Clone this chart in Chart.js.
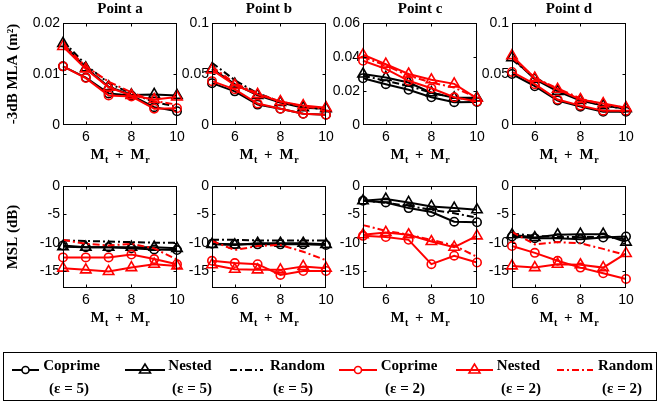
<!DOCTYPE html>
<html><head><meta charset="utf-8">
<script src="https://cdn.jsdelivr.net/npm/chart.js@4.4.1/dist/chart.umd.min.js"></script>
<style>
html,body{margin:0;padding:0;background:#fff;}
#wrap{position:relative;width:659px;height:404px;overflow:hidden;background:#fff;}
canvas{position:absolute;}
#legendBox{position:absolute;left:3px;top:352px;width:654px;height:49px;border:1.5px solid #000;box-sizing:border-box;}
.lt{position:absolute;width:90px;text-align:center;font:bold 15px "Liberation Serif",serif;line-height:17px;color:#000;white-space:nowrap;}
svg{position:absolute;left:0;top:0;pointer-events:none;}
</style></head><body><div id="wrap"><div id="legendBox"></div></div>
<script>
// ---------------- data ----------------
const X_VALUES = [5, 6, 7, 8, 9, 10];
const X_TICKS = [6, 8, 10];
const PANEL_TITLES = ['Point a', 'Point b', 'Point c', 'Point d'];
const MLA_TITLE = '-3dB MLA (m\u00B2)';
const MSL_TITLE = 'MSL (dB)';

const MLA_TICKS_A = [0, 0.01, 0.02];
const MLA_TICKS_B = [0, 0.05, 0.1];
const MLA_TICKS_C = [0, 0.02, 0.04, 0.06];
const MLA_TICKS_D = [0, 0.05, 0.1];
const MSL_TICKS = [-15, -10, -5, 0];
const MSL_MIN = -18;

// -3dB MLA, point a
const mlaA_coprime5 = [0.0115, 0.0093, 0.0062, 0.0058, 0.0035, 0.0027];
const mlaA_nested5  = [0.0160, 0.0112, 0.0075, 0.0059, 0.0060, 0.0058];
const mlaA_random5  = [0.0165, 0.0118, 0.0082, 0.0062, 0.0045, 0.0036];
const mlaA_coprime2 = [0.0115, 0.0092, 0.0058, 0.0056, 0.0032, 0.0033];
const mlaA_nested2  = [0.0154, 0.0110, 0.0074, 0.0058, 0.0050, 0.0055];
const mlaA_random2  = [0.0158, 0.0115, 0.0085, 0.0064, 0.0047, 0.0040];
// point b
const mlaB_coprime5 = [0.041, 0.033, 0.020, 0.016, 0.011, 0.010];
const mlaB_nested5  = [0.055, 0.040, 0.029, 0.022, 0.017, 0.016];
const mlaB_random5  = [0.061, 0.044, 0.031, 0.023, 0.018, 0.015];
const mlaB_coprime2 = [0.043, 0.035, 0.021, 0.016, 0.011, 0.010];
const mlaB_nested2  = [0.054, 0.039, 0.030, 0.023, 0.019, 0.017];
const mlaB_random2  = [0.057, 0.041, 0.031, 0.023, 0.018, 0.016];
// point c
const mlaC_coprime5 = [0.0275, 0.0240, 0.0207, 0.0163, 0.0134, 0.0135];
const mlaC_nested5  = [0.0300, 0.0280, 0.0250, 0.0190, 0.0160, 0.0160];
const mlaC_random5  = [0.0290, 0.0260, 0.0230, 0.0190, 0.0160, 0.0150];
const mlaC_coprime2 = [0.0378, 0.0330, 0.0260, 0.0216, 0.0163, 0.0138];
const mlaC_nested2  = [0.0413, 0.0358, 0.0300, 0.0266, 0.0242, 0.0157];
const mlaC_random2  = [0.0400, 0.0350, 0.0290, 0.0250, 0.0220, 0.0160];
// point d
const mlaD_coprime5 = [0.050, 0.038, 0.024, 0.018, 0.013, 0.013];
const mlaD_nested5  = [0.066, 0.045, 0.033, 0.024, 0.019, 0.016];
const mlaD_random5  = [0.064, 0.047, 0.034, 0.025, 0.019, 0.016];
const mlaD_coprime2 = [0.052, 0.040, 0.025, 0.019, 0.014, 0.014];
const mlaD_nested2  = [0.068, 0.046, 0.035, 0.025, 0.021, 0.017];
const mlaD_random2  = [0.066, 0.046, 0.036, 0.026, 0.020, 0.017];

// MSL (dB), point a
const mslA_coprime5 = [-10.5, -10.8, -10.8, -11.0, -11.2, -11.3];
const mslA_nested5  = [-10.7, -10.8, -10.8, -10.8, -10.8, -11.0];
const mslA_random5  = [-9.6, -9.7, -9.8, -9.9, -10.0, -10.0];
const mslA_coprime2 = [-12.6, -12.6, -12.6, -12.1, -12.9, -13.8];
const mslA_nested2  = [-14.5, -14.8, -15.1, -14.4, -13.8, -14.1];
const mslA_random2  = [-9.5, -10.2, -10.5, -10.2, -11.0, -13.0];
// point b
const mslB_coprime5 = [-10.2, -10.3, -10.3, -10.3, -10.3, -10.4];
const mslB_nested5  = [-10.3, -10.4, -10.1, -10.1, -10.1, -10.3];
const mslB_random5  = [-9.5, -9.5, -9.6, -9.6, -9.6, -9.6];
const mslB_coprime2 = [-13.2, -13.6, -13.8, -15.7, -15.0, -15.0];
const mslB_nested2  = [-13.9, -14.7, -14.8, -14.8, -14.2, -14.5];
const mslB_random2  = [-9.7, -11.3, -10.6, -10.4, -11.6, -13.1];
// point c
const mslC_coprime5 = [-2.6, -2.9, -3.9, -4.6, -6.3, -6.4];
const mslC_nested5  = [-2.6, -2.3, -2.9, -3.6, -3.9, -4.2];
const mslC_random5  = [-2.5, -3.0, -3.5, -4.2, -4.8, -5.6];
const mslC_coprime2 = [-8.8, -9.0, -9.5, -13.8, -12.3, -13.5];
const mslC_nested2  = [-8.6, -8.2, -8.6, -9.8, -10.8, -8.8];
const mslC_random2  = [-6.9, -7.9, -8.6, -9.5, -10.5, -12.5];
// point d
const mslD_coprime5 = [-8.9, -9.2, -9.2, -9.4, -9.1, -8.9];
const mslD_nested5  = [-8.6, -9.1, -8.6, -8.5, -8.5, -9.9];
const mslD_random5  = [-8.4, -8.8, -9.0, -9.0, -9.0, -9.4];
const mslD_coprime2 = [-10.6, -11.8, -13.2, -14.4, -15.4, -16.4];
const mslD_nested2  = [-14.1, -14.4, -13.8, -13.9, -14.4, -11.9];
const mslD_random2  = [-8.1, -10.3, -9.9, -10.1, -11.1, -12.2];

const LEGEND_NAMES = ['Coprime', 'Nested', 'Random', 'Coprime', 'Nested', 'Random'];
const LEGEND_EPS = ['(\u03B5 = 5)', '(\u03B5 = 5)', '(\u03B5 = 5)', '(\u03B5 = 2)', '(\u03B5 = 2)', '(\u03B5 = 2)'];

// ---------------- styles ----------------
const BLACK = '#000000', RED = '#ff0000';
const DASHDOT = [7, 3, 2, 3];
const STYLES = [
  {color: BLACK, point: 'circle', r: 4.2, dash: [], order: 2},
  {color: BLACK, point: 'triangle', r: 6, dash: [], order: 2},
  {color: BLACK, point: null, r: 0, dash: DASHDOT, order: 2},
  {color: RED, point: 'circle', r: 4.2, dash: [], order: 1},
  {color: RED, point: 'triangle', r: 6, dash: [], order: 1},
  {color: RED, point: null, r: 0, dash: DASHDOT, order: 1},
];

Chart.defaults.color = '#000';
const wrap = document.getElementById('wrap');
const TICK_FONT = {family: '"Liberation Sans", Arial, sans-serif', size: 14};
const SERIF_BOLD = {family: '"Liberation Serif", "Times New Roman", serif', size: 15, weight: 'bold'};

function drawXTitle(ctx, cx, baseY) {
  const big = 'bold 15px "Liberation Serif"', small = 'bold 10px "Liberation Serif"';
  const parts = [
    {t: 'M', f: big, dy: 0, gap: 0.5},
    {t: 't', f: small, dy: 4, gap: 6.5},
    {t: '+', f: big, dy: 0, gap: 7},
    {t: 'M', f: big, dy: 0, gap: 0.5},
    {t: 'r', f: small, dy: 4, gap: 0},
  ];
  let total = 0;
  parts.forEach(p => { ctx.font = p.f; p.w = ctx.measureText(p.t).width; total += p.w + p.gap; });
  let x = cx - total / 2;
  ctx.fillStyle = '#000'; ctx.textAlign = 'left'; ctx.textBaseline = 'alphabetic';
  parts.forEach(p => { ctx.font = p.f; ctx.fillText(p.t, x, baseY + p.dy); x += p.w + p.gap; });
}

const framePlugin = {
  id: 'frame',
  afterDraw(chart, args, opts) {
    const {ctx, chartArea: a, scales: {x, y}} = chart;
    ctx.save();
    ctx.strokeStyle = '#000'; ctx.lineWidth = 1;
    const L = Math.round(a.left) + 0.5, R = Math.round(a.right) - 0.5;
    const T = Math.round(a.top) + 0.5, B = Math.round(a.bottom) - 0.5;
    ctx.strokeRect(L, T, R - L, B - T);
    ctx.beginPath();
    X_TICKS.forEach(v => {
      const px = Math.round(x.getPixelForValue(v)) + 0.5;
      if (px > L + 1 && px < R - 1) {
        ctx.moveTo(px, B); ctx.lineTo(px, B - 3);
        ctx.moveTo(px, T); ctx.lineTo(px, T + 3);
      }
    });
    (opts.yTicks || []).forEach(v => {
      const py = Math.round(y.getPixelForValue(v)) + 0.5;
      if (py > T + 1 && py < B - 1) {
        ctx.moveTo(L, py); ctx.lineTo(L + 3, py);
        ctx.moveTo(R, py); ctx.lineTo(R - 3, py);
      }
    });
    ctx.stroke();
    drawXTitle(ctx, (a.left + a.right) / 2, a.bottom + 34);
    ctx.restore();
  }
};

function makeDatasets(series) {
  return series.map((vals, i) => {
    const s = STYLES[i];
    return {
      data: X_VALUES.map((xv, j) => ({x: xv, y: vals[j]})),
      borderColor: s.color, borderWidth: 2, borderDash: s.dash,
      pointStyle: s.point || 'circle', pointRadius: s.point ? s.r : 0,
      pointBorderColor: s.color, pointBackgroundColor: 'rgba(0,0,0,0)',
      pointBorderWidth: 1.6, tension: 0, fill: false, clip: false, order: s.order,
    };
  });
}

function panel(left, top, title, yTitle, yMin, yMax, yTicks, series) {
  const W = 188, H = 170;
  const c = document.createElement('canvas');
  c.width = W; c.height = H;
  c.style.left = left + 'px'; c.style.top = top + 'px';
  wrap.appendChild(c);
  new Chart(c, {
    type: 'line',
    data: {datasets: makeDatasets(series)},
    plugins: [framePlugin],
    options: {
      responsive: false, animation: false, devicePixelRatio: 1,
      layout: {padding: {left: 0, right: 14, top: title ? 0 : 23, bottom: 0}},
      plugins: {
        legend: {display: false}, tooltip: {enabled: false},
        title: title ? {display: true, fullSize: false, text: title, font: SERIF_BOLD, color: '#000', padding: {top: 0, bottom: 5}} : {display: false},
        frame: {yTicks: yTicks},
      },
      scales: {
        x: {
          type: 'linear', min: 5, max: 10,
          afterBuildTicks: s => { s.ticks = X_TICKS.map(v => ({value: v})); },
          afterFit: s => { s.height = 45; },
          grid: {display: false, drawTicks: false}, border: {display: false},
          ticks: {font: TICK_FONT, color: '#000', padding: 4, maxRotation: 0, autoSkip: false, callback: v => String(v)},
        },
        y: {
          type: 'linear', min: yMin, max: yMax,
          afterBuildTicks: s => { s.ticks = yTicks.map(v => ({value: v})); },
          afterFit: s => { s.width = 60; },
          grid: {display: false, drawTicks: false}, border: {display: false},
          ticks: {font: TICK_FONT, color: '#000', padding: 3, autoSkip: false, callback: v => String(v)},
          title: yTitle ? {display: true, text: yTitle, font: SERIF_BOLD, color: '#000', padding: {top: 1, bottom: 0}} : {display: false},
        },
      },
    },
  });
}

const COL_LEFT = [63, 212, 363, 512];
const TOP_ROW = 0, BOTTOM_ROW = 163;

panel(COL_LEFT[0] - 60, TOP_ROW, PANEL_TITLES[0], MLA_TITLE, 0, 0.02, MLA_TICKS_A,
  [mlaA_coprime5, mlaA_nested5, mlaA_random5, mlaA_coprime2, mlaA_nested2, mlaA_random2]);
panel(COL_LEFT[1] - 60, TOP_ROW, PANEL_TITLES[1], null, 0, 0.1, MLA_TICKS_B,
  [mlaB_coprime5, mlaB_nested5, mlaB_random5, mlaB_coprime2, mlaB_nested2, mlaB_random2]);
panel(COL_LEFT[2] - 60, TOP_ROW, PANEL_TITLES[2], null, 0, 0.06, MLA_TICKS_C,
  [mlaC_coprime5, mlaC_nested5, mlaC_random5, mlaC_coprime2, mlaC_nested2, mlaC_random2]);
panel(COL_LEFT[3] - 60, TOP_ROW, PANEL_TITLES[3], null, 0, 0.1, MLA_TICKS_D,
  [mlaD_coprime5, mlaD_nested5, mlaD_random5, mlaD_coprime2, mlaD_nested2, mlaD_random2]);

panel(COL_LEFT[0] - 60, BOTTOM_ROW, null, MSL_TITLE, MSL_MIN, 0, MSL_TICKS,
  [mslA_coprime5, mslA_nested5, mslA_random5, mslA_coprime2, mslA_nested2, mslA_random2]);
panel(COL_LEFT[1] - 60, BOTTOM_ROW, null, null, MSL_MIN, 0, MSL_TICKS,
  [mslB_coprime5, mslB_nested5, mslB_random5, mslB_coprime2, mslB_nested2, mslB_random2]);
panel(COL_LEFT[2] - 60, BOTTOM_ROW, null, null, MSL_MIN, 0, MSL_TICKS,
  [mslC_coprime5, mslC_nested5, mslC_random5, mslC_coprime2, mslC_nested2, mslC_random2]);
panel(COL_LEFT[3] - 60, BOTTOM_ROW, null, null, MSL_MIN, 0, MSL_TICKS,
  [mslD_coprime5, mslD_nested5, mslD_random5, mslD_coprime2, mslD_nested2, mslD_random2]);

// ---------------- legend ----------------
const LEG_SAMPLE = [[12, 39], [125, 165], [230, 263], [339, 377], [456, 493], [557, 593]];
const LEG_CENTER1 = [71.5, 190, 297.5, 409, 518.5, 625.5];
const LEG_CENTER2 = [69, 192, 293, 405, 521, 622];
const LEG_LINE_Y = 370;
let svg = '<svg width="659" height="404" xmlns="http://www.w3.org/2000/svg">';
STYLES.forEach((s, i) => {
  const [x0, x1] = LEG_SAMPLE[i];
  const dash = s.dash.length ? ` stroke-dasharray="${s.dash.join(',')}"` : '';
  svg += `<line x1="${x0}" y1="${LEG_LINE_Y}" x2="${x1}" y2="${LEG_LINE_Y}" stroke="${s.color}" stroke-width="2"${dash}/>`;
  const cx = (x0 + x1) / 2, cy = LEG_LINE_Y;
  if (s.point === 'circle') svg += `<circle cx="${cx}" cy="${cy}" r="3.5" fill="#fff" stroke="${s.color}" stroke-width="1.6"/>`;
  if (s.point === 'triangle') svg += `<polygon points="${cx},${cy - 6} ${cx - 5.5},${cy + 3} ${cx + 5.5},${cy + 3}" fill="none" stroke="${s.color}" stroke-width="1.6"/>`;
});
svg += '</svg>';
wrap.insertAdjacentHTML('beforeend', svg);
LEGEND_NAMES.forEach((n, i) => {
  const d1 = document.createElement('div'); d1.className = 'lt'; d1.textContent = n;
  d1.style.left = (LEG_CENTER1[i] - 45) + 'px'; d1.style.top = '357px';
  const d2 = document.createElement('div'); d2.className = 'lt'; d2.textContent = LEGEND_EPS[i];
  d2.style.left = (LEG_CENTER2[i] - 45) + 'px'; d2.style.top = '380px';
  wrap.appendChild(d1); wrap.appendChild(d2);
});
</script></body></html>
